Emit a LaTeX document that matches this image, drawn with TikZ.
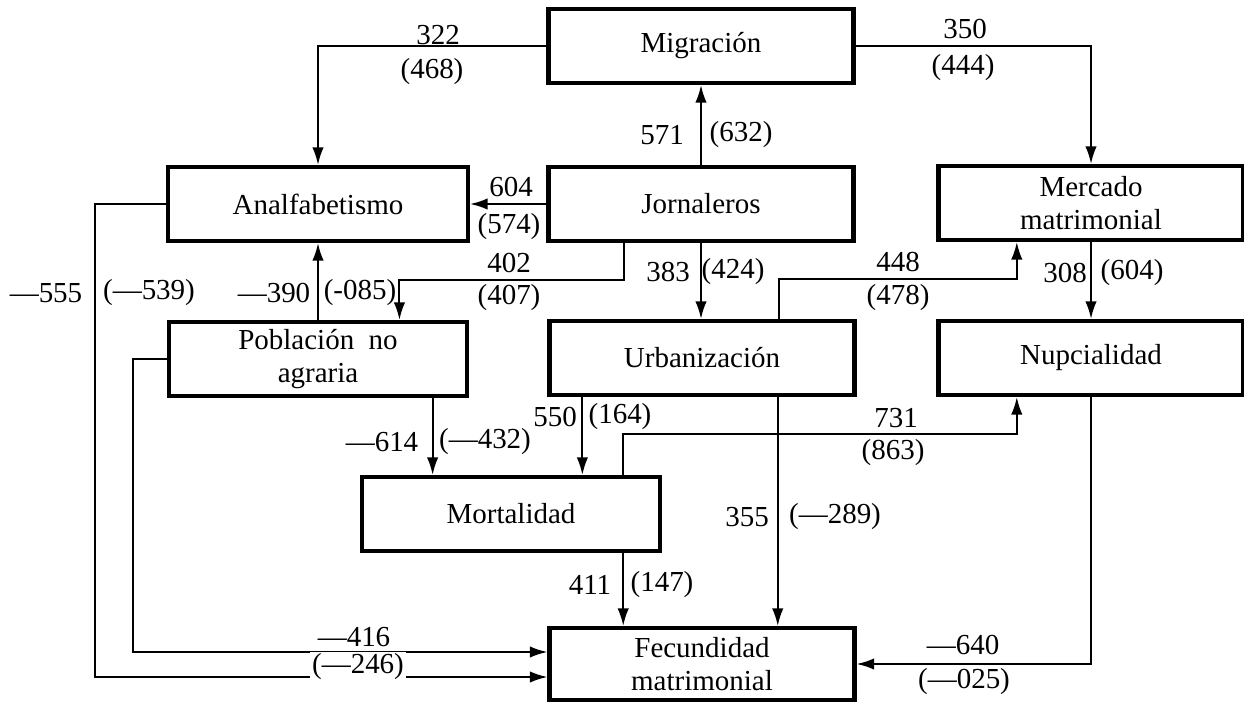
\documentclass[tikz,border=0pt]{standalone}
\usepackage{fontspec}
\setmainfont{Liberation Serif}
\usepackage{tikz}
\usetikzlibrary{arrows.meta,calc}

\begin{document}
\begin{tikzpicture}[
  x=0.02cm,y=-0.02cm,>={Latex[length=10pt,width=6.5pt]},
  every node/.style={font=\fontsize{16.5}{19}\selectfont},
  factor/.style={draw,line width=2.4pt,align=center,minimum width=6.1cm,
    minimum height=1.48cm,inner sep=2pt},
  link/.style={->,line width=1.1pt},
  coef/.style={inner sep=1pt}
]
\useasboundingbox (0,0) rectangle (1244,702);

\node[factor] (mig) at (701,46) {Migración};
\node[factor] (jor) at (701,204) {Jornaleros};
\node[factor,minimum width=6cm] (ana) at (318,204) {Analfabetismo};
\node[factor] (mer) at (1091,203) {Mercado\\matrimonial};
\node[factor] (nup) at (1091,358) {Nupcialidad};
\node[factor,minimum width=5.95cm] (pob) at (318,359) {Población\ \ no\\agraria};
\node[factor] (urb) at (702,358) {Urbanización};
\node[factor,minimum width=5.95cm] (mor) at (511,514) {Mortalidad};
\node[factor,minimum height=1.44cm] (fec) at (702,664) {Fecundidad\\matrimonial};

\coordinate (j1) at ($(jor.south west)!.25!(jor.south east)$);
\coordinate (p1) at ($(pob.north west)!.77!(pob.north east)$);
\coordinate (p2) at ($(pob.south west)!.88!(pob.south east)$);
\coordinate (u1) at ($(urb.north west)!.75!(urb.north east)$);
\coordinate (u2) at ($(urb.south west)!.113!(urb.south east)$);
\coordinate (u3) at ($(urb.south west)!.745!(urb.south east)$);
\coordinate (m1) at ($(mer.south west)!.26!(mer.south east)$);
\coordinate (n1) at ($(nup.south west)!.26!(nup.south east)$);
\coordinate (r1) at ($(mor.north west)!.872!(mor.north east)$);
\coordinate (r2) at ($(mor.south west)!.872!(mor.south east)$);
\coordinate (f1) at (fec.west |- 0,652);
\coordinate (f2) at (fec.west |- 0,677);

\draw[link] (mig.west) -| (ana.north);
\draw[link] (mig.east) -| (mer.north);
\draw[link] (jor.north) -- (mig.south);
\draw[link] (jor.west) -- (ana.east);
\draw[link] (j1) -- (j1 |- 0,280) -| (p1);
\draw[link] (jor.south) -- (jor.south |- urb.north);
\draw[link] (u1) -- (u1 |- 0,279) -| (m1);
\draw[link] (mer.south) -- (nup.north);
\draw[link] (pob.north) -- (pob.north |- ana.south);
\draw[link] (ana.west) -| (95,677) -- (f2);
\draw[link] (pob.west) -| (133,652) -- (f1);
\draw[link] (p2) -- (p2 |- mor.north);
\draw[link] (u2) -- (u2 |- mor.north);
\draw[link] (r1) -- (r1 |- 0,434) -| (n1);
\draw[link] (r2) -- (r2 |- fec.north);
\draw[link] (u3) -- (u3 |- fec.north);
\draw[link] (nup.south) |- (fec.east);

\node[coef] (c322) at (438,35) {322};
\node[coef] (c468) at (432,72) {(468)};
\node[coef] (c350) at (965,29) {350};
\node[coef] (c444) at (963,68) {(444)};
\node[coef] (c571) at (662,135) {571};
\node[coef] (c632) at (741,135) {(632)};
\node[coef] (c604) at (511,187) {604};
\node[coef] (c574) at (509,227) {(574)};
\node[coef] (c402) at (509,263) {402};
\node[coef] (c407) at (509,298) {(407)};
\node[coef] (c383) at (668,272) {383};
\node[coef] (c424) at (733,272) {(424)};
\node[coef] (c448) at (898,262) {448};
\node[coef] (c478) at (898,298) {(478)};
\node[coef] (c308) at (1065,273) {308};
\node[coef] (c604b) at (1132,273) {(604)};
\node[coef] (c390) at (274,293) {—390};
\node[coef] (c085) at (360,293) {(-085)};
\node[coef] (c555) at (46,293) {—555};
\node[coef] (c539) at (149,293) {(—539)};
\node[coef] (c550) at (555,417) {550};
\node[coef] (c164) at (620,417) {(164)};
\node[coef] (c614) at (382,442) {—614};
\node[coef] (c432) at (485,442) {(—432)};
\node[coef] (c731) at (896,418) {731};
\node[coef] (c863) at (893,453) {(863)};
\node[coef] (c355) at (747,517) {355};
\node[coef] (c289) at (835,517) {(—289)};
\node[coef] (c411) at (590,585) {411};
\node[coef] (c147) at (662,585) {(147)};
\node[coef] (c416) at (354,637) {—416};
\node[coef,fill=white] (c246) at (358,667) {(—246)};
\node[coef] (c640) at (963,645) {—640};
\node[coef] (c025) at (964,682) {(—025)};
\end{tikzpicture}
\end{document}
